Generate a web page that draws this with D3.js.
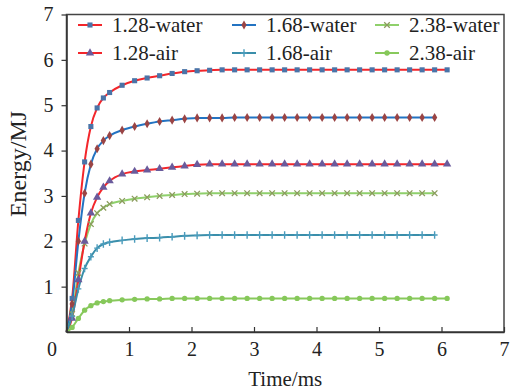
<!DOCTYPE html>
<html>
<head>
<meta charset="utf-8">
<script src="https://cdn.jsdelivr.net/npm/d3@7"></script>
<style>
  body { margin: 0; background: #fff; }
  svg text { font-family: "Liberation Serif", "Times New Roman", serif; fill: #222; }
</style>
</head>
<body>
<svg id="chart"></svg>
<script>
// sample times (ms)
const time = [0, 0.09, 0.19, 0.29, 0.39, 0.49, 0.59, 0.69, 0.89, 1.09, 1.29, 1.49, 1.69, 1.89, 2.09,
  2.29, 2.49, 2.69, 2.89, 3.09, 3.29, 3.49, 3.69, 3.89, 4.09, 4.29, 4.49, 4.69, 4.89, 5.09,
  5.29, 5.49, 5.69, 5.89, 6.09];

// energy (MJ) per series
const e128water = [0, 0.74, 2.46, 3.75, 4.53, 4.94, 5.16, 5.28, 5.44, 5.54, 5.60, 5.65, 5.70, 5.74, 5.76,
  5.77, 5.78, 5.78, 5.78, 5.78, 5.78, 5.78, 5.78, 5.78, 5.78, 5.78, 5.78, 5.78, 5.78, 5.78,
  5.78, 5.78, 5.78, 5.78, 5.78];
const e168water = [0, 0.62, 2.00, 3.06, 3.70, 4.04, 4.22, 4.33, 4.45, 4.53, 4.59, 4.64, 4.67, 4.70, 4.72,
  4.72, 4.72, 4.73, 4.73, 4.73, 4.73, 4.73, 4.73, 4.73, 4.73, 4.73, 4.73, 4.73, 4.73, 4.73,
  4.73, 4.73, 4.73, 4.73];
const e238water = [0, 0.40, 1.30, 1.95, 2.38, 2.62, 2.74, 2.82, 2.89, 2.94, 2.97, 3.00, 3.02, 3.04, 3.05,
  3.06, 3.06, 3.06, 3.06, 3.06, 3.06, 3.06, 3.06, 3.06, 3.06, 3.06, 3.06, 3.06, 3.06, 3.06,
  3.06, 3.06, 3.06, 3.06];
const e128air = [0, 0.30, 1.15, 2.00, 2.62, 2.97, 3.19, 3.33, 3.48, 3.54, 3.57, 3.60, 3.63, 3.66, 3.69,
  3.70, 3.70, 3.70, 3.70, 3.70, 3.70, 3.70, 3.70, 3.70, 3.70, 3.70, 3.70, 3.70, 3.70, 3.70,
  3.70, 3.70, 3.70, 3.70, 3.70];
const e168air = [0, 0.35, 0.95, 1.40, 1.66, 1.85, 1.94, 1.98, 2.02, 2.05, 2.07, 2.08, 2.10, 2.12, 2.13,
  2.14, 2.14, 2.14, 2.14, 2.14, 2.14, 2.14, 2.14, 2.14, 2.14, 2.14, 2.14, 2.14, 2.14, 2.14,
  2.14, 2.14, 2.14, 2.14];
const e238air = [0, 0.10, 0.30, 0.48, 0.58, 0.64, 0.67, 0.69, 0.71, 0.72, 0.73, 0.73, 0.74, 0.74, 0.74,
  0.74, 0.74, 0.74, 0.74, 0.74, 0.74, 0.74, 0.74, 0.74, 0.74, 0.74, 0.74, 0.74, 0.74, 0.74,
  0.74, 0.74, 0.74, 0.74, 0.74];

const seriesNames = ["1.28-water", "1.68-water", "2.38-water", "1.28-air", "1.68-air", "2.38-air"];
const seriesValues = [e128water, e168water, e238water, e128air, e168air, e238air];

const xTicks = [0, 1, 2, 3, 4, 5, 6, 7];
const yTicks = [1, 2, 3, 4, 5, 6, 7];

// styling per series (line colour, marker colour, marker type)
const styles = [
  { line: "#f3262b", mark: "#4a74a8", shape: "square" },
  { line: "#2373c2", mark: "#9a4444", shape: "diamond" },
  { line: "#8fd06b", mark: "#8c9c5e", shape: "x" },
  { line: "#f3262b", mark: "#6a5b9c", shape: "triangle" },
  { line: "#3a8eaa", mark: "#4b9cbc", shape: "plus" },
  { line: "#88c95c", mark: "#86c85a", shape: "circle" }
];

const width = 513, height = 391;
const margin = { top: 14.5, right: 9, bottom: 59, left: 66.5 };

const svg = d3.select("#chart").attr("width", width).attr("height", height);

const x = d3.scaleLinear().domain([0, 7]).range([margin.left, width - margin.right]);
const y = d3.scaleLinear().domain([0, 7]).range([height - margin.bottom, margin.top]);

const data = seriesNames.map((name, i) => ({
  name,
  style: styles[i],
  points: seriesValues[i].map((v, j) => ({ t: time[j], e: v }))
}));

function drawMarker(sel, style) {
  const c = style.mark;
  if (style.shape === "square") {
    sel.append("path").attr("d", d3.symbol(d3.symbolSquare, 26)).attr("fill", c);
  } else if (style.shape === "diamond") {
    sel.append("path").attr("d", d3.symbol(d3.symbolDiamond, 24)).attr("fill", c);
  } else if (style.shape === "triangle") {
    sel.append("path").attr("d", d3.symbol(d3.symbolTriangle, 30)).attr("fill", c);
  } else if (style.shape === "circle") {
    sel.append("path").attr("d", d3.symbol(d3.symbolCircle, 22)).attr("fill", c);
  } else if (style.shape === "x") {
    sel.append("path").attr("d", "M-2.8,-2.8L2.8,2.8M-2.8,2.8L2.8,-2.8")
      .attr("stroke", c).attr("stroke-width", 1.3).attr("fill", "none");
  } else if (style.shape === "plus") {
    sel.append("path").attr("d", "M0,-3.8V3.8M-3,0H3")
      .attr("stroke", c).attr("stroke-width", 1.4).attr("fill", "none");
  }
}

const line = d3.line()
  .x(d => x(d.t))
  .y(d => y(d.e))
  .curve(d3.curveMonotoneX);

// series lines
svg.append("g")
  .selectAll("path")
  .data(data)
  .join("path")
  .attr("d", d => line(d.points))
  .attr("fill", "none")
  .attr("stroke", d => d.style.line)
  .attr("stroke-width", 2);

// markers
data.forEach(s => {
  svg.append("g")
    .selectAll("g")
    .data(s.points.filter(p => p.t > 0))
    .join("g")
    .attr("transform", p => `translate(${x(p.t)},${y(p.e)})`)
    .each(function () { drawMarker(d3.select(this), s.style); });
});

// frame
svg.append("rect")
  .attr("x", margin.left)
  .attr("y", margin.top)
  .attr("width", width - margin.right - margin.left)
  .attr("height", height - margin.bottom - margin.top)
  .attr("fill", "none")
  .attr("stroke", "#444")
  .attr("stroke-width", 1.5);

// x axis, ticks point inward
const xAxis = svg.append("g")
  .attr("transform", `translate(0,${height - margin.bottom})`)
  .call(d3.axisBottom(x).tickValues(xTicks).tickFormat(d3.format("d"))
    .tickSizeInner(-5).tickSizeOuter(0).tickPadding(10));
xAxis.select(".domain").attr("stroke", "#333").attr("stroke-width", 1.5);
xAxis.selectAll(".tick line").attr("stroke", "#333").attr("stroke-width", 1.2);
xAxis.selectAll("text").attr("font-size", 20).attr("fill", "#222")
  .attr("dx", d => d === 0 ? -15 : 0);

// y axis, ticks point outward
const yAxis = svg.append("g")
  .attr("transform", `translate(${margin.left},0)`)
  .call(d3.axisLeft(y).tickValues(yTicks).tickFormat(d3.format("d"))
    .tickSizeInner(5).tickSizeOuter(0).tickPadding(8));
yAxis.select(".domain").attr("stroke", "#333").attr("stroke-width", 1.5);
yAxis.selectAll(".tick line").attr("stroke", "#333").attr("stroke-width", 1.2);
yAxis.selectAll("text").attr("font-size", 20).attr("fill", "#222");

// axis titles
svg.append("text")
  .attr("x", (margin.left + width - margin.right) / 2)
  .attr("y", 386)
  .attr("text-anchor", "middle")
  .attr("font-size", 21)
  .text("Time/ms");

svg.append("text")
  .attr("transform", "rotate(-90)")
  .attr("x", -164)
  .attr("y", 26)
  .attr("text-anchor", "middle")
  .attr("font-size", 24)
  .text("Energy/MJ");

// legend
const legendCols = [78, 232, 375];
const legendRows = [25, 53];
const legend = svg.append("g")
  .selectAll("g")
  .data(data)
  .join("g")
  .attr("transform", (d, i) => `translate(${legendCols[i % 3]},${legendRows[Math.floor(i / 3)]})`);

legend.append("line")
  .attr("x1", 0).attr("x2", 24)
  .attr("stroke", d => d.style.line)
  .attr("stroke-width", 2);
legend.append("g")
  .attr("transform", "translate(12,0)")
  .each(function (d) { drawMarker(d3.select(this), d.style); });
legend.append("text")
  .attr("x", 34)
  .attr("y", 7)
  .attr("font-size", 21)
  .text(d => d.name);
</script>
</body>
</html>
